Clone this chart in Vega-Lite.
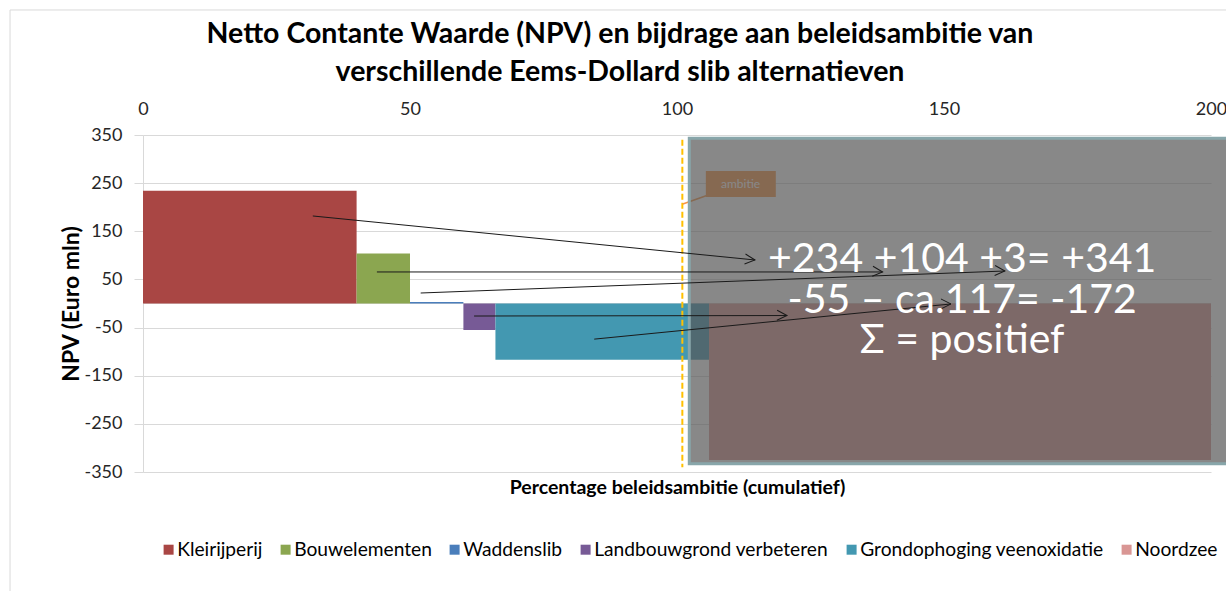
{
  "$schema": "https://vega.github.io/schema/vega-lite/v6.json",
  "width": 1068,
  "height": 337,
  "autosize": {"type": "none"},
  "padding": {"left": 143, "top": 135, "right": 15, "bottom": 119},
  "background": "white",
  "config": {"font": "Lato", "view": {"stroke": null}},
  "title": {
    "text": ["Netto Contante Waarde (NPV) en bijdrage aan beleidsambitie van", "verschillende  Eems-Dollard slib alternatieven"],
    "font": "Lato", "fontSize": 28.5, "fontWeight": "bold", "color": "#000000",
    "anchor": "middle", "dx": -57, "dy": 91, "offset": 14, "lineHeight": 38
  },
  "datasets": {
    "bars": [
      {"alternatief": "Kleirijperij", "start": 0, "end": 40, "npv": 234},
      {"alternatief": "Bouwelementen", "start": 40, "end": 50, "npv": 104},
      {"alternatief": "Waddenslib", "start": 50, "end": 60, "npv": 3},
      {"alternatief": "Landbouwgrond verbeteren", "start": 60, "end": 66, "npv": -55},
      {"alternatief": "Grondophoging veenoxidatie", "start": 66, "end": 106, "npv": -117},
      {"alternatief": "Noordzee", "start": 106, "end": 200, "npv": -325}
    ],
    "arrows": [
      {"id": 1, "from_pct": 31.8, "from_npv": 181.8, "to_pct": 114.6, "to_npv": 90.4},
      {"id": 2, "from_pct": 43.8, "from_npv": 65.5, "to_pct": 138.5, "to_npv": 65.5},
      {"id": 3, "from_pct": 52.0, "from_npv": 21.8, "to_pct": 161.4, "to_npv": 67.5},
      {"id": 4, "from_pct": 62.0, "from_npv": -26.0, "to_pct": 120.6, "to_npv": -25.0},
      {"id": 5, "from_pct": 84.5, "from_npv": -74.0, "to_pct": 151.3, "to_npv": -1.0}
    ],
    "notes": [
      {"line": "+234 +104 +3= +341", "pct": 153.4, "npv": 64.8},
      {"line": "-55 – ca.117= -172", "pct": 153.4, "npv": -19.1},
      {"line": "Σ = positief", "pct": 153.4, "npv": -102.8}
    ],
    "one": [{}]
  },
  "resolve": {"axis": {"x": "independent"}},
  "layer": [
    {
      "data": {"name": "one"},
      "mark": {"type": "rect", "fill": null, "stroke": "#D9D9D9", "strokeWidth": 1},
      "encoding": {
        "x": {"datum": -24.9, "type": "quantitative", "axis": null},
        "x2": {"datum": 212},
        "y": {"datum": 609.7, "type": "quantitative"},
        "y2": {"datum": -700}
      }
    },
    {
      "data": {"name": "one"},
      "mark": {"type": "rule", "color": "#D9D9D9", "strokeWidth": 1},
      "encoding": {
        "x": {"datum": 0, "type": "quantitative", "axis": {"orient": "bottom", "title": "Percentage beleidsambitie (cumulatief)", "labels": false, "ticks": false, "domain": false, "grid": false, "titleFontSize": 19.5, "titleFontWeight": "bold", "titleColor": "#000000", "titleFont": "Lato", "titlePadding": 6}},
        "x2": {"datum": 200},
        "y": {"datum": 0, "type": "quantitative"}
      }
    },
    {
      "data": {"name": "bars"},
      "mark": {"type": "rect"},
      "encoding": {
        "x": {
          "field": "start", "type": "quantitative",
          "scale": {"domain": [0, 200], "nice": false, "zero": false},
          "axis": {"orient": "top", "values": [0, 50, 100, 150, 200], "title": null, "grid": false, "ticks": false, "tickSize": 0, "domain": false, "labelFlush": false, "labelPadding": 17, "labelFontSize": 18, "labelFont": "Lato", "labelColor": "#262626"}
        },
        "x2": {"field": "end"},
        "y": {
          "field": "npv", "type": "quantitative",
          "scale": {"domain": [-350, 350], "nice": false, "zero": false},
          "axis": {"values": [-350, -250, -150, -50, 50, 150, 250, 350], "labelExpr": "replace(datum.label, '−', '-')", "title": "NPV (Euro mln)", "grid": true, "gridColor": "#D9D9D9", "tickSize": 9, "tickColor": "#D9D9D9", "domainColor": "#D9D9D9", "labelPadding": 12, "labelFontSize": 18, "labelFont": "Lato", "labelColor": "#262626", "titleFontSize": 23, "titleFontWeight": "bold", "titleFont": "Lato", "titleColor": "#000000", "titlePadding": 0}
        },
        "y2": {"datum": 0},
        "color": {
          "field": "alternatief", "type": "nominal",
          "scale": {
            "domain": ["Kleirijperij", "Bouwelementen", "Waddenslib", "Landbouwgrond verbeteren", "Grondophoging veenoxidatie", "Noordzee"],
            "range": ["#A94644", "#8BA650", "#4A7EBB", "#775A96", "#4398B1", "#D99694"]
          },
          "legend": {"title": null, "orient": "none", "legendX": 16, "legendY": 405, "direction": "horizontal", "symbolType": "square", "symbolSize": 100, "symbolOpacity": 1, "symbolStrokeWidth": 0, "labelFontSize": 19.2, "labelFont": "Lato", "labelColor": "#000000", "labelLimit": 0, "labelOffset": -1, "columnPadding": 13, "padding": 0}
        }
      }
    },
    {
      "data": {"name": "one"},
      "mark": {"type": "rule", "color": "#FFC000", "strokeWidth": 2, "strokeDash": [6, 3]},
      "encoding": {
        "x": {"datum": 101, "type": "quantitative", "axis": null},
        "y": {"datum": 340, "type": "quantitative"},
        "y2": {"datum": -340}
      }
    },
    {
      "data": {"name": "one"},
      "mark": {"type": "rule", "color": "#F79646", "strokeWidth": 1.5},
      "encoding": {
        "x": {"datum": 101.1, "type": "quantitative", "axis": null},
        "x2": {"datum": 106.5},
        "y": {"datum": 206.6, "type": "quantitative"},
        "y2": {"datum": 228}
      }
    },
    {
      "data": {"name": "one"},
      "mark": {"type": "rect", "fill": "#F79646"},
      "encoding": {
        "x": {"datum": 105.4, "type": "quantitative", "axis": null},
        "x2": {"datum": 118.5},
        "y": {"datum": 275, "type": "quantitative"},
        "y2": {"datum": 221}
      }
    },
    {
      "data": {"name": "one"},
      "mark": {"type": "text", "text": "ambitie", "color": "#FFFFFF", "fontSize": 12, "font": "Lato", "align": "center", "baseline": "middle"},
      "encoding": {
        "x": {"datum": 111.9, "type": "quantitative", "axis": null},
        "y": {"datum": 248, "type": "quantitative"}
      }
    },
    {
      "data": {"name": "one"},
      "mark": {"type": "rect", "fill": "#555555", "fillOpacity": 0.7, "stroke": "#88A6AA", "strokeWidth": 3},
      "encoding": {
        "x": {"datum": 102.3, "type": "quantitative", "axis": null},
        "x2": {"datum": 206},
        "y": {"datum": 343, "type": "quantitative"},
        "y2": {"datum": -333}
      }
    },
    {
      "data": {"name": "arrows"},
      "mark": {"type": "rule", "color": "#1A1A1A", "strokeWidth": 1},
      "encoding": {
        "x": {"field": "from_pct", "type": "quantitative", "axis": null},
        "x2": {"field": "to_pct"},
        "y": {"field": "from_npv", "type": "quantitative"},
        "y2": {"field": "to_npv"}
      }
    },
    {
      "data": {"name": "arrows"},
      "mark": {"type": "point", "shape": "M -1 -0.5 L 0 0 L -1 0.5", "filled": false, "stroke": "#1A1A1A", "strokeWidth": 1, "opacity": 1, "size": 400},
      "encoding": {
        "x": {"field": "to_pct", "type": "quantitative", "axis": null},
        "y": {"field": "to_npv", "type": "quantitative"},
        "angle": {"field": "id", "type": "ordinal", "scale": {"domain": [1, 2, 3, 4, 5], "range": [5.7, 0, 357.8, 0, 354.4]}, "legend": null}
      }
    },
    {
      "data": {"name": "notes"},
      "mark": {"type": "text", "color": "#FFFFFF", "fontSize": 41, "font": "Lato", "align": "center", "baseline": "alphabetic"},
      "encoding": {
        "x": {"field": "pct", "type": "quantitative", "axis": null},
        "y": {"field": "npv", "type": "quantitative"},
        "text": {"field": "line"}
      }
    }
  ]
}
